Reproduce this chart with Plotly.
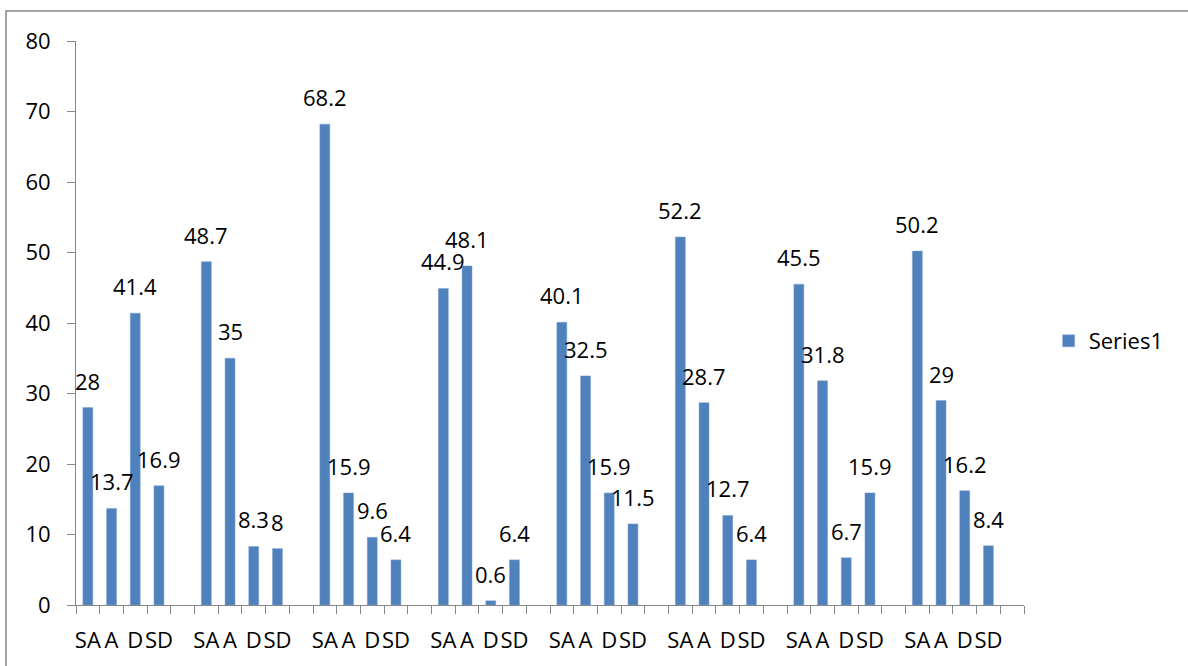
import plotly.graph_objects as go

groups = 8
category_labels = ["SA", "A", "D", "SD", ""]
values_sa = [28, 48.7, 68.2, 44.9, 40.1, 52.2, 45.5, 50.2]
values_a = [13.7, 35, 15.9, 48.1, 32.5, 28.7, 31.8, 29]
values_d = [41.4, 8.3, 9.6, 0.6, 15.9, 12.7, 6.7, 16.2]
values_sd = [16.9, 8, 6.4, 6.4, 11.5, 6.4, 15.9, 8.4]
series_name = "Series1"
y_ticks = [0, 10, 20, 30, 40, 50, 60, 70, 80]

# build the flat category sequence (4 bars + one blank slot per group)
xs, ys, labels = [], [], []
for g in range(groups):
    row = [values_sa[g], values_a[g], values_d[g], values_sd[g], None]
    for k, v in enumerate(row):
        xs.append(g * 5 + k)
        ys.append(v)
        labels.append(category_labels[k])

FONT = "Open Sans"
FS = 22
BLUE = "#4F81BD"
GREY = "#868686"

fig = go.Figure()
fig.add_trace(go.Bar(
    x=xs, y=ys, name=series_name,
    marker=dict(color=BLUE, line=dict(color="#7FA3D3", width=0.5)),
    showlegend=True,
))

annotations = []
for x, y in zip(xs, ys):
    if y is None:
        continue
    annotations.append(dict(
        x=x, y=y, xref="x", yref="y", text=f"{y:g}", showarrow=False,
        yanchor="middle", xanchor="center", yshift=27,
        font=dict(family=FONT, size=FS, color="#000000"),
    ))

fig.update_layout(
    width=1188, height=666,
    margin=dict(l=76, r=164, t=41, b=61, autoexpand=False),
    paper_bgcolor="white", plot_bgcolor="white",
    font=dict(family=FONT, size=FS, color="#000000"),
    bargap=0.58,
    showlegend=True,
    legend=dict(x=1.026, y=0.468, xanchor="left", yanchor="middle",
                font=dict(family=FONT, size=FS), bgcolor="rgba(0,0,0,0)"),
    annotations=annotations,
    shapes=[dict(type="rect", xref="paper", yref="paper",
                 x0=(6 - 76) / 948, x1=(1200 - 76) / 948,
                 y0=(605 - 680) / 564, y1=(605 - 11) / 564,
                 line=dict(color=GREY, width=1.5), layer="below")],
)

fig.update_xaxes(
    range=[-0.5, len(xs) - 0.5],
    tickmode="array", tickvals=xs, ticktext=labels, tickangle=0,
    ticks="", showline=True, linecolor=GREY, linewidth=1,
    showgrid=False, zeroline=False, ticklabelstandoff=16, automargin=False,
    minor=dict(tickmode="linear", tick0=-0.5, dtick=1, ticks="outside",
               ticklen=8, tickcolor=GREY, tickwidth=1, showgrid=False),
    tickfont=dict(family=FONT, size=FS),
)
fig.update_yaxes(
    range=[0, 80], tickmode="array", tickvals=y_ticks,
    ticks="outside", ticklen=8, tickcolor=GREY,
    showline=True, linecolor=GREY, linewidth=1, automargin=False,
    showgrid=False, zeroline=False, ticklabelstandoff=12,
    tickfont=dict(family=FONT, size=FS),
)

fig.write_html("out.html")
